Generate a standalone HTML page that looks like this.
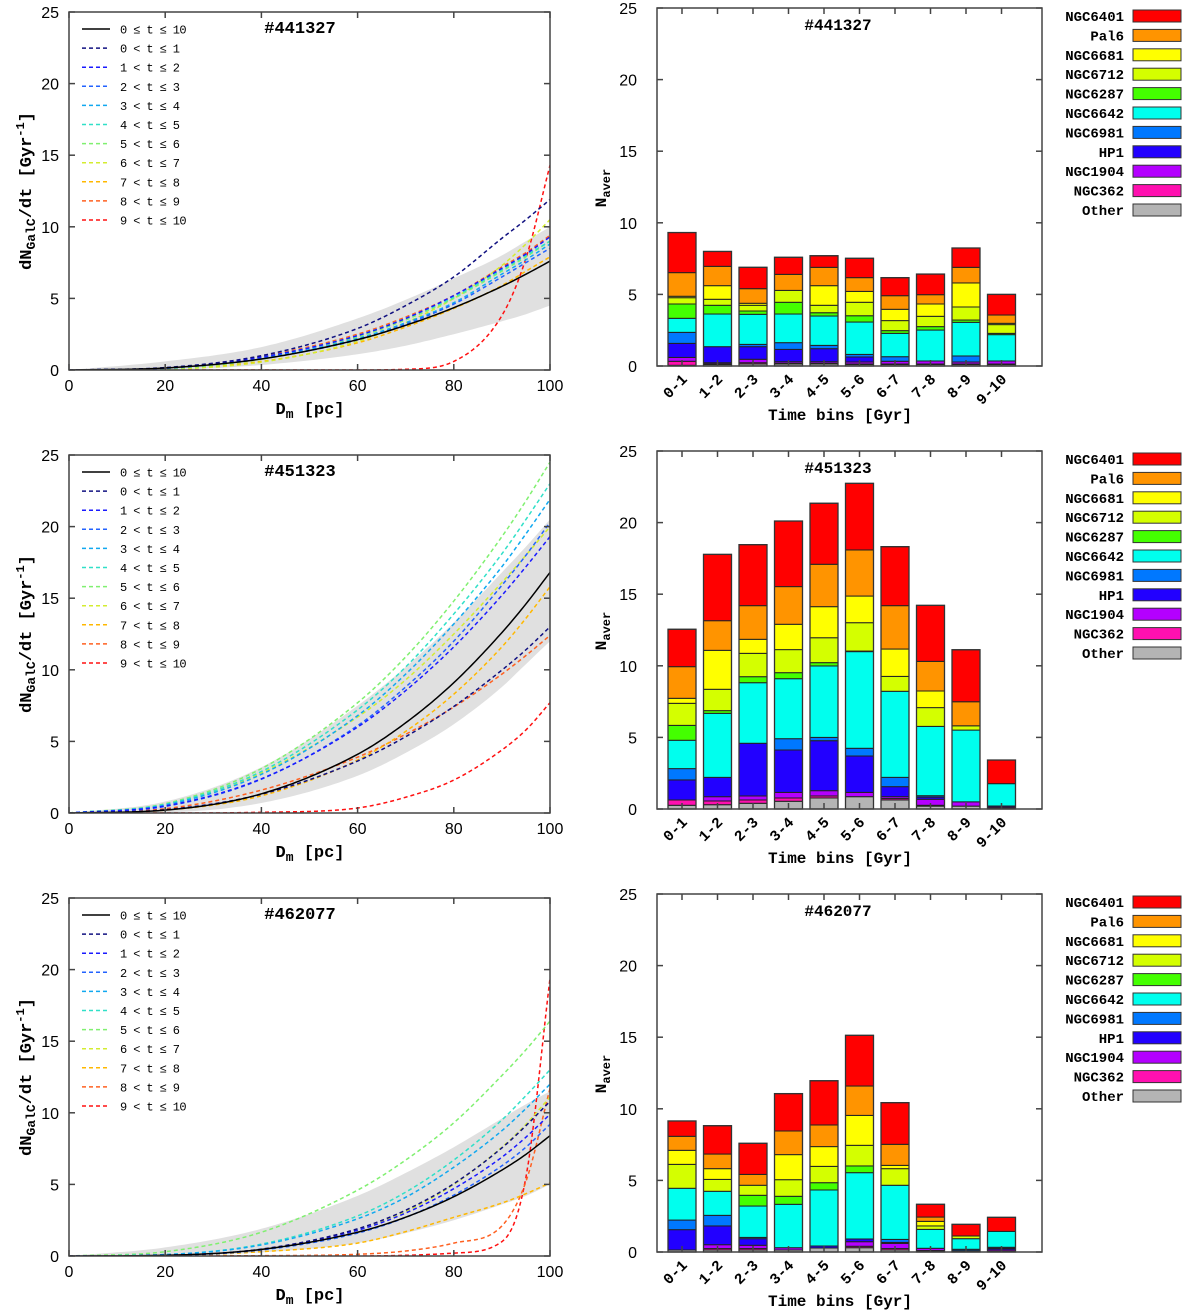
<!DOCTYPE html>
<html><head><meta charset="utf-8"><style>
body{margin:0;background:#fff}
svg{display:block}
text{font-family:"Liberation Mono",monospace}
.tk{font-family:"Liberation Sans",sans-serif;font-size:16px}
</style></head><body>
<svg id="fig" width="1200" height="1314" viewBox="0 0 1200 1314" xmlns="http://www.w3.org/2000/svg"></svg>
<script>
// ---------- Left panel data (rate curves) ----------
const dmPoints = [0,20,40,60,70,80,90,95,100];
const curveLabels = ["0 ≤ t ≤ 10","0 < t ≤ 1","1 < t ≤ 2","2 < t ≤ 3","3 < t ≤ 4","4 < t ≤ 5","5 < t ≤ 6","6 < t ≤ 7","7 < t ≤ 8","8 < t ≤ 9","9 < t ≤ 10"];
const curveColors = ["#000000","#101080","#1a1aff","#2262ff","#10a8f0","#30e0c8","#80f070","#d4ec30","#ffb800","#ff6020","#ff1010"];
const runIds = ["#441327","#451323","#462077"];
const curvesA = [
 [0,0.14,0.77,2.12,3.12,4.35,5.84,6.69,7.6],
 [0,0.17,1.0,2.9,4.5,6.5,9.2,10.5,11.9],
 [0,0.14,0.9,2.4,3.6,5.2,7.1,8.1,9.3],
 [0,0.12,0.8,2.1,3.2,4.6,6.5,7.5,8.5],
 [0,0.13,0.85,2.2,3.3,4.7,6.7,7.7,8.8],
 [0,0.14,0.9,2.4,3.6,5.1,7.0,8.0,9.0],
 [0,0.1,0.75,2.3,3.5,5.0,6.9,7.9,9.0],
 [0,0.06,0.55,2.0,3.3,5.0,7.3,8.8,10.5],
 [0,0.08,0.6,1.9,3.0,4.3,5.9,6.9,7.9],
 [0,0.14,0.95,2.5,3.7,5.2,7.2,8.2,9.4],
 [0,0,0,0,0.05,0.6,3.8,7.8,14.3]
];
const curvesB = [
 [0,0.2,1.34,4.1,6.3,9.1,12.6,14.6,16.8],
 [0,0.23,1.31,3.63,5.33,7.44,9.98,11.4,13.0],
 [0,0.49,2.39,6.0,8.55,11.6,15.2,17.2,19.3],
 [0,0.46,2.36,6.1,8.8,12.0,15.9,18.0,20.3],
 [0,0.56,2.7,6.8,9.7,13.2,17.2,19.5,21.9],
 [0,0.6,2.9,7.2,10.2,13.9,18.1,20.5,23.0],
 [0,0.65,3.1,7.7,10.9,14.8,19.3,21.8,24.5],
 [0,0.6,2.8,6.7,9.3,12.5,16.1,18.0,20.0],
 [0,0.2,1.2,3.7,5.7,8.3,11.6,13.6,15.8],
 [0,0.3,1.6,3.9,5.5,7.4,9.7,11.0,12.4],
 [0,0,0.05,0.35,1.1,2.3,4.4,5.8,7.7]
];
const curvesC = [
 [0,0.05,0.46,1.66,2.71,4.14,6.0,7.1,8.4],
 [0,0.05,0.48,1.9,3.2,5.05,7.55,9.1,10.8],
 [0,0.05,0.47,1.8,3.0,4.7,6.9,8.3,9.9],
 [0,0.04,0.42,1.6,2.7,4.25,6.3,7.6,9.2],
 [0,0.1,0.77,2.6,4.1,6.2,8.75,10.3,12.0],
 [0,0.1,0.83,2.8,4.46,6.7,9.5,11.2,13.0],
 [0,0.3,1.66,4.6,6.7,9.3,12.6,14.4,16.4],
 [0,0.05,0.45,1.8,3.1,5.0,7.6,9.2,11.1],
 [0,0.03,0.3,0.9,1.7,2.7,3.7,4.35,5.1],
 [0,0,0.02,0.12,0.35,0.9,2.1,5.2,11.7],
 [0,0,0,0,0.05,0.2,1.0,5.5,19.4]
];
const bandLowA = [0,0.02,0.35,1.1,1.7,2.5,3.4,3.9,4.5];
const bandHighA = [0,0.6,1.6,3.6,4.9,6.4,8.0,9.0,10.0];
const bandLowB = [0,0.05,0.7,2.6,4.2,6.2,8.8,10.4,12.0];
const bandHighB = [0,0.8,3.2,7.5,10.2,13.3,16.8,18.6,20.5];
const bandLowC = [0,0.02,0.25,0.9,1.6,2.5,3.6,4.2,5.0];
const bandHighC = [0,0.6,1.9,4.2,5.8,7.6,9.6,10.6,11.5];
const xTicksLeft = [0,20,40,60,80,100];
const yTicks = [0,5,10,15,20,25];

// ---------- Right panel data (stacked bars) ----------
const timeBins = ["0-1","1-2","2-3","3-4","4-5","5-6","6-7","7-8","8-9","9-10"];
const clusterNames = ["Other","NGC362","NGC1904","HP1","NGC6981","NGC6642","NGC6287","NGC6712","NGC6681","Pal6","NGC6401"];
const clusterColors = ["#b4b4b4","#ff10b0","#b400ff","#2200ff","#0078ff","#00ffee","#44ff00","#d4ff00","#ffff00","#ff9400","#ff0000"];
const A_other=[0.05,0.1,0.14,0.14,0.14,0.1,0.1,0.1,0.1,0.1];
const A_n362=[0.28,0.05,0.09,0.05,0.05,0.04,0.04,0.04,0.04,0.04];
const A_n1904=[0.27,0.08,0.24,0.11,0.11,0.14,0.19,0.21,0.14,0.21];
const A_hp1=[0.98,1.12,0.88,0.86,0.91,0.35,0,0,0,0];
const A_n6981=[0.77,0,0.16,0.47,0.23,0.18,0.32,0,0.42,0];
const A_n6642=[0.98,2.28,2.1,2.0,2.05,2.26,1.63,2.16,2.35,1.84];
const A_n6287=[1.0,0.61,0.23,0.82,0.23,0.44,0.19,0.24,0.16,0.09];
const A_n6712=[0.44,0.42,0.4,0.83,0.52,0.94,0.7,0.72,0.91,0.61];
const A_n6681=[0.1,0.95,0.14,0,1.37,0.76,0.79,0.86,1.68,0.09];
const A_pal6=[1.65,1.35,1.02,1.12,1.28,0.96,0.95,0.65,1.09,0.58];
const A_n6401=[2.8,1.04,1.49,1.19,0.81,1.35,1.26,1.44,1.35,1.44];
const B_other=[0.26,0.3,0.4,0.54,0.77,0.86,0.63,0.2,0.2,0.05];
const B_n362=[0.37,0.26,0.23,0.23,0.14,0,0.1,0.06,0,0];
const B_n1904=[0,0.3,0.28,0.39,0.37,0.3,0.13,0.42,0.3,0.08];
const B_hp1=[1.4,1.35,3.68,2.96,3.49,2.54,0.7,0.15,0,0.08];
const B_n6981=[0.79,0,0,0.79,0.23,0.54,0.65,0.1,0,0];
const B_n6642=[1.98,4.47,4.23,4.19,4.99,6.75,6.01,4.84,5.01,1.56];
const B_n6287=[1.04,0.19,0.42,0.42,0.23,0.04,0,0,0,0];
const B_n6712=[1.54,1.49,1.63,1.61,1.74,1.98,1.04,1.31,0.3,0];
const B_n6681=[0.35,2.72,0.98,1.77,2.17,1.86,1.91,1.16,0,0];
const B_pal6=[2.21,2.07,2.35,2.63,2.96,3.22,3.03,2.07,1.68,0];
const B_n6401=[2.61,4.63,4.26,4.58,4.26,4.65,4.12,3.91,3.63,1.65];
const C_other=[0.14,0.14,0.14,0.14,0.28,0.3,0.14,0.05,0.05,0.05];
const C_n362=[0,0.1,0.1,0,0,0.1,0.1,0.05,0,0];
const C_n1904=[0,0.27,0.23,0.16,0,0.32,0.36,0.16,0.04,0.1];
const C_hp1=[1.42,1.31,0.46,0,0.14,0.19,0.07,0,0,0.1];
const C_n6981=[0.67,0.74,0.09,0,0,0,0.21,0,0.1,0.08];
const C_n6642=[2.22,1.68,2.19,3.03,3.91,4.63,3.78,1.32,0.74,1.11];
const C_n6287=[0,0,0.75,0.56,0.51,0.47,0,0,0,0];
const C_n6712=[1.67,0.83,0.7,1.16,1.14,1.44,1.16,0.24,0.19,0];
const C_n6681=[0.98,0.75,0,1.75,1.38,2.09,0.23,0.32,0,0];
const C_pal6=[0.98,1.02,0.76,1.65,1.51,2.05,1.47,0.3,0,0];
const C_n6401=[1.07,1.98,2.17,2.61,3.09,3.54,2.91,0.89,0.81,0.98];

const NS="http://www.w3.org/2000/svg";
const svg=document.getElementById('fig');
function el(tag,attrs,parent,txt){const e=document.createElementNS(NS,tag);for(const k in attrs)e.setAttribute(k,attrs[k]);if(txt!==undefined)e.textContent=txt;(parent||svg).appendChild(e);return e;}

function monotone(xs,ys){
  const n=xs.length,d=[],m=new Array(n);
  for(let i=0;i<n-1;i++)d.push((ys[i+1]-ys[i])/(xs[i+1]-xs[i]));
  m[0]=d[0];m[n-1]=d[n-2];
  for(let i=1;i<n-1;i++)m[i]=(d[i-1]*d[i]<=0)?0:(d[i-1]+d[i])/2;
  for(let i=0;i<n-1;i++){
    if(d[i]===0){m[i]=0;m[i+1]=0;continue;}
    const a=m[i]/d[i],b=m[i+1]/d[i],s=a*a+b*b;
    if(s>9){const t=3/Math.sqrt(s);m[i]=t*a*d[i];m[i+1]=t*b*d[i];}
  }
  return function(x){
    let i=0;while(i<n-2&&x>xs[i+1])i++;
    const h=xs[i+1]-xs[i],t=(x-xs[i])/h,t2=t*t,t3=t2*t;
    return (2*t3-3*t2+1)*ys[i]+(t3-2*t2+t)*h*m[i]+(-2*t3+3*t2)*ys[i+1]+(t3-t2)*h*m[i+1];
  };
}

const curveSets=[curvesA,curvesB,curvesC];
const bandLows=[bandLowA,bandLowB,bandLowC];
const bandHighs=[bandHighA,bandHighB,bandHighC];
const barSets=[
 [A_other,A_n362,A_n1904,A_hp1,A_n6981,A_n6642,A_n6287,A_n6712,A_n6681,A_pal6,A_n6401],
 [B_other,B_n362,B_n1904,B_hp1,B_n6981,B_n6642,B_n6287,B_n6712,B_n6681,B_pal6,B_n6401],
 [C_other,C_n362,C_n1904,C_hp1,C_n6981,C_n6642,C_n6287,C_n6712,C_n6681,C_pal6,C_n6401]
];

for(let p=0;p<3;p++){
  const off=443*p;
  // ===== LEFT PANEL =====
  const L={x0:69,x1:550,y0:12+off,y1:370+off};
  const xS=v=>L.x0+(v/100)*(L.x1-L.x0);
  const yS=v=>L.y1-(v/25)*(L.y1-L.y0);
  const g=el('g',{},svg);
  
  
  const cid='clipL'+p;
  const cp=el('clipPath',{id:cid},g);el('rect',{x:L.x0,y:L.y0,width:L.x1-L.x0,height:L.y1-L.y0},cp);
  const plot=el('g',{'clip-path':'url(#'+cid+')'},g);
  const lo=monotone(dmPoints,bandLows[p]),hi=monotone(dmPoints,bandHighs[p]);
  let up=[],dn=[];
  for(let x=0;x<=100;x+=1){up.push(xS(x).toFixed(1)+','+yS(hi(x)).toFixed(1));dn.unshift(xS(x).toFixed(1)+','+yS(lo(x)).toFixed(1));}
  const band=el('polygon',{points:up.concat(dn).join(' '),fill:'#d6d6d6','fill-opacity':'0.75'},plot);
  
  
  const cs=curveSets[p];
  for(let c=cs.length-1;c>=0;c--){
    const f=monotone(dmPoints,cs[c]);let d='';
    for(let x=0;x<=100;x+=0.5){d+=(x===0?'M':'L')+xS(x).toFixed(2)+','+yS(Math.max(0,f(x))).toFixed(2);}
    const path=el('path',{d:d,fill:'none',stroke:curveColors[c],'stroke-width':1.5,'stroke-dasharray':c===0?'none':'4,3'},plot);
    
    
  }
  const box=el('rect',{x:L.x0,y:L.y0,width:L.x1-L.x0,height:L.y1-L.y0,fill:'none',stroke:'#444','stroke-width':1.5},g);
  
  
  xTicksLeft.forEach(v=>{
    const x=xS(v);
    el('line',{x1:x,y1:L.y1,x2:x,y2:L.y1-6,stroke:'#444','stroke-width':1.5},g);
    el('line',{x1:x,y1:L.y0,x2:x,y2:L.y0+6,stroke:'#444','stroke-width':1.5},g);
    const t=el('text',{x:x,y:L.y1+21,'text-anchor':'middle',class:'tk'},g,String(v));
    
    
  });
  yTicks.forEach(v=>{
    const y=yS(v);
    el('line',{x1:L.x0,y1:y,x2:L.x0+6,y2:y,stroke:'#444','stroke-width':1.5},g);
    el('line',{x1:L.x1,y1:y,x2:L.x1-6,y2:y,stroke:'#444','stroke-width':1.5},g);
    const t=el('text',{x:L.x0-10,y:y+6,'text-anchor':'end',class:'tk'},g,String(v));
    
    
  });
  const xt=el('text',{x:310,y:L.y1+44,'text-anchor':'middle','font-size':'17','font-weight':'bold'},g);
  
  
  el('tspan',{},xt,'D');el('tspan',{'font-size':'13',dy:'4'},xt,'m');el('tspan',{dy:'-4'},xt,' [pc]');
  const yt=el('text',{transform:'translate(31,'+(L.y0+179)+') rotate(-90)','text-anchor':'middle','font-size':'17','font-weight':'bold'},g);
  
  
  el('tspan',{},yt,'dN');el('tspan',{'font-size':'13',dy:'4'},yt,'GalC');el('tspan',{dy:'-4'},yt,'/dt [Gyr');el('tspan',{'font-size':'12',dy:'-7'},yt,'-1');el('tspan',{dy:'7'},yt,']');
  const ti=el('text',{x:300,y:L.y0+21,'text-anchor':'middle','font-size':'17','font-weight':'bold'},g,runIds[p]);
  
  
  curveLabels.forEach((lab,i)=>{
    const y=L.y0+17+i*19.1;
    const eg=el('g',{},g);
    
    
    el('line',{x1:82,y1:y,x2:110,y2:y,stroke:curveColors[i],'stroke-width':1.5,'stroke-dasharray':i===0?'none':'4,3'},eg);
    el('text',{x:120,y:y+4.5,'font-size':'12','letter-spacing':'-0.6'},eg,lab);
  });

  // ===== RIGHT PANEL =====
  const R={x0:657,x1:1042,y0:8+off,y1:366+off};
  const ryS=v=>R.y1-(v/25)*(R.y1-R.y0);
  const bx=i=>682+i*35.5;
  const rg=el('g',{},svg);
  
  
  const bs=barSets[p];
  for(let i=0;i<timeBins.length;i++){
    let cum=0;
    const bg=el('g',{},rg);
    
    
    for(let k=0;k<bs.length;k++){
      const v=bs[k][i];if(v<=0)continue;
      const yTop=ryS(cum+v),yBot=ryS(cum);
      const r=el('rect',{x:bx(i)-14,y:yTop,width:28,height:yBot-yTop,fill:clusterColors[k],stroke:'#222','stroke-width':1},bg);
      
      
      cum+=v;
    }
    const tot=el('rect',{x:bx(i)-14,y:ryS(cum),width:28,height:ryS(0)-ryS(cum),fill:'none',stroke:'#333','stroke-width':1.3},bg);
    
    
  }
  const rb=el('rect',{x:R.x0,y:R.y0,width:R.x1-R.x0,height:R.y1-R.y0,fill:'none',stroke:'#444','stroke-width':1.5},rg);
  
  
  yTicks.forEach(v=>{
    const y=ryS(v);
    el('line',{x1:R.x0,y1:y,x2:R.x0+6,y2:y,stroke:'#444','stroke-width':1.5},rg);
    el('line',{x1:R.x1,y1:y,x2:R.x1-6,y2:y,stroke:'#444','stroke-width':1.5},rg);
    const t=el('text',{x:R.x0-20,y:y+6,'text-anchor':'end',class:'tk'},rg,String(v));
    
    
  });
  timeBins.forEach((lab,i)=>{
    const x=bx(i);
    el('line',{x1:x,y1:R.y1,x2:x,y2:R.y1-6,stroke:'#444','stroke-width':1.5},rg);
    el('line',{x1:x,y1:R.y0,x2:x,y2:R.y0+6,stroke:'#444','stroke-width':1.5},rg);
    const t=el('text',{transform:'translate('+(x+6)+','+(R.y1+14)+') rotate(-45)','text-anchor':'end','font-size':'15','font-weight':'bold'},rg,lab);
    
    
  });
  const rxt=el('text',{x:840,y:R.y1+54,'text-anchor':'middle','font-size':'16','font-weight':'bold'},rg,'Time bins [Gyr]');
  
  
  const ryt=el('text',{transform:'translate(606,'+(R.y0+180)+') rotate(-90)','text-anchor':'middle','font-size':'16','font-weight':'bold'},rg);
  
  
  el('tspan',{},ryt,'N');el('tspan',{'font-size':'12',dy:'4'},ryt,'aver');
  const rti=el('text',{x:838,y:R.y0+22,'text-anchor':'middle','font-size':'16','font-weight':'bold'},rg,runIds[p]);
  
  
  for(let j=0;j<clusterNames.length;j++){
    const k=clusterNames.length-1-j;
    const y=R.y0+8+j*19.4;
    const lg=el('g',{},rg);
    
    
    el('rect',{x:1133,y:y-6,width:48,height:12,fill:clusterColors[k],stroke:'#333','stroke-width':1},lg);
    el('text',{x:1124,y:y+5,'text-anchor':'end','font-size':'14','font-weight':'bold'},lg,clusterNames[k]);
  }
}
</script>
</body></html>
